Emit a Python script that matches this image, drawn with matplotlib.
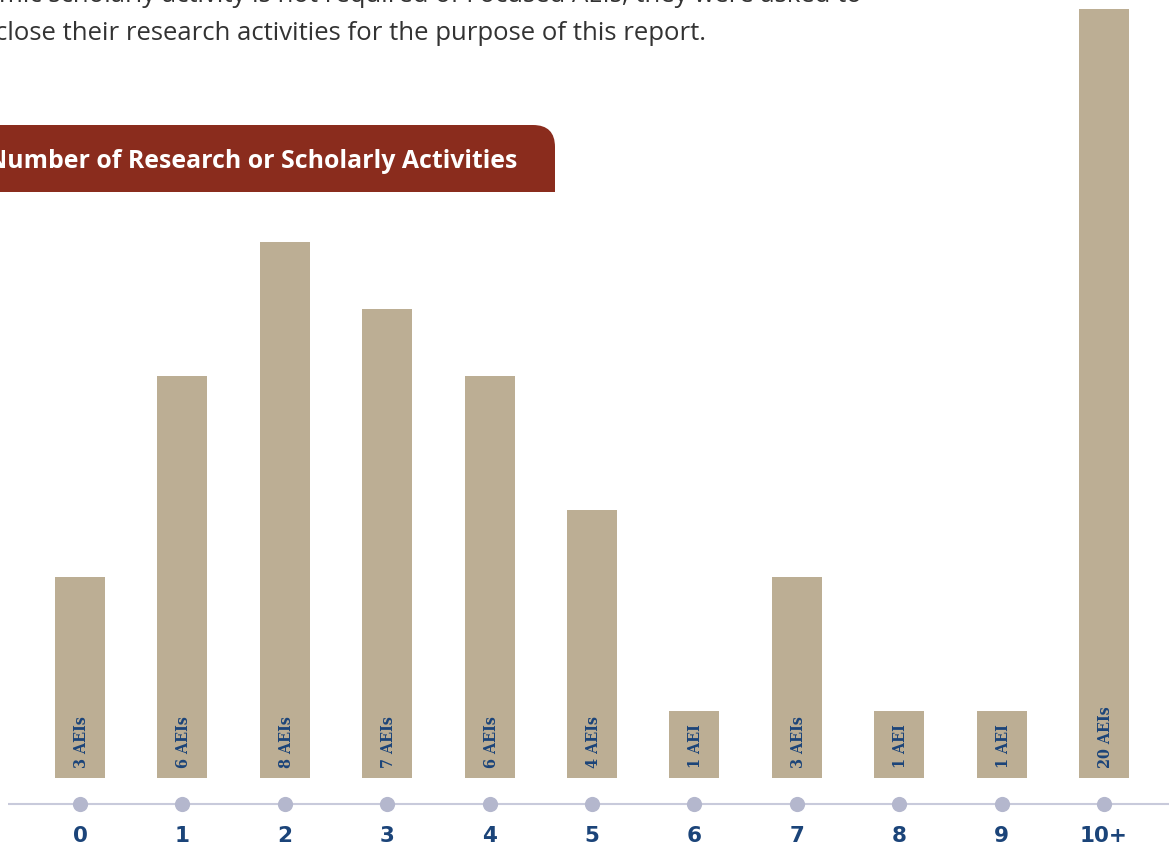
import matplotlib
matplotlib.use("Agg")
import matplotlib.pyplot as plt
from matplotlib.patches import FancyBboxPatch, Rectangle

categories = ["0", "1", "2", "3", "4", "5", "6", "7", "8", "9", "10+"]
counts = [3, 6, 8, 7, 6, 4, 1, 3, 1, 1, 20]
bar_labels = ["3 AEIs", "6 AEIs", "8 AEIs", "7 AEIs", "6 AEIs", "4 AEIs",
              "1 AEI", "3 AEIs", "1 AEI", "1 AEI", "20 AEIs"]
title = "Number of Research or Scholarly Activities"
intro_line1 = "academic scholarly activity is not required of Focused AEIs, they were asked to"
intro_line2 = "close their research activities for the purpose of this report."

W, H = 1176, 851
fig = plt.figure(figsize=(W / 100, H / 100), dpi=100)
fig.patch.set_facecolor("white")

BAR = "#bcae94"
NAVY = "#1b4479"
DOT = "#b4b7cd"
LINE = "#c8cadb"
RED = "#8a2c1d"

top_px, base_px, ppu = 9, 778, 67.0
ax = fig.add_axes([0, 0, 1, (H - top_px) / H])
ax.set_facecolor("none")
x0, step = 80, 102.4
ax.set_xlim(-x0 / step, (W - x0) / step)
ax.set_ylim(-(H - base_px) / ppu, (base_px - top_px) / ppu)
ax.axis("off")

xs = list(range(len(categories)))
ax.bar(xs, counts, width=50 / step, color=BAR, zorder=2)

line_y = -(804 - base_px) / ppu
ax.plot([-0.7, 10.63], [line_y, line_y], color=LINE, lw=1.5, zorder=1,
        solid_capstyle="butt")
ax.scatter(xs, [line_y] * len(xs), s=120, color=DOT, zorder=3, linewidths=0)

lab_y = -(836 - base_px) / ppu
for x, c in zip(xs, categories):
    ax.text(x, lab_y, c, ha="center", va="center", fontsize=15.5,
            family="DejaVu Sans", fontweight="bold", color=NAVY)

for x, t in zip(xs, bar_labels):
    ax.text(x + 1.5 / step, 10 / ppu, t, ha="center", va="bottom", rotation=90,
            fontsize=11.5, family="DejaVu Serif", fontweight="bold",
            fontstretch="condensed", color=NAVY, zorder=4)

fax = fig.add_axes([0, 0, 1, 1])
fax.set_xlim(0, W)
fax.set_ylim(H, 0)
fax.axis("off")
fax.set_zorder(5)
banner = FancyBboxPatch((-40, 125), 595, 67,
                        boxstyle="round,pad=0,rounding_size=22",
                        facecolor=RED, edgecolor="none")
fax.add_patch(banner)
fax.add_patch(Rectangle((-40, 160), 595, 32, facecolor=RED, edgecolor="none"))
fax.text(517, 161, title, ha="right", va="center", fontsize=17.9,
         family="Open Sans", fontweight="bold", color="white")

fax.text(862, -5, intro_line1, ha="right", va="center", fontsize=18.5,
         family="Open Sans", color="#333333")
fax.text(706, 33, intro_line2, ha="right", va="center", fontsize=18.5,
         family="Open Sans", color="#333333")

fig.savefig("out.png", dpi=100, facecolor="white")
